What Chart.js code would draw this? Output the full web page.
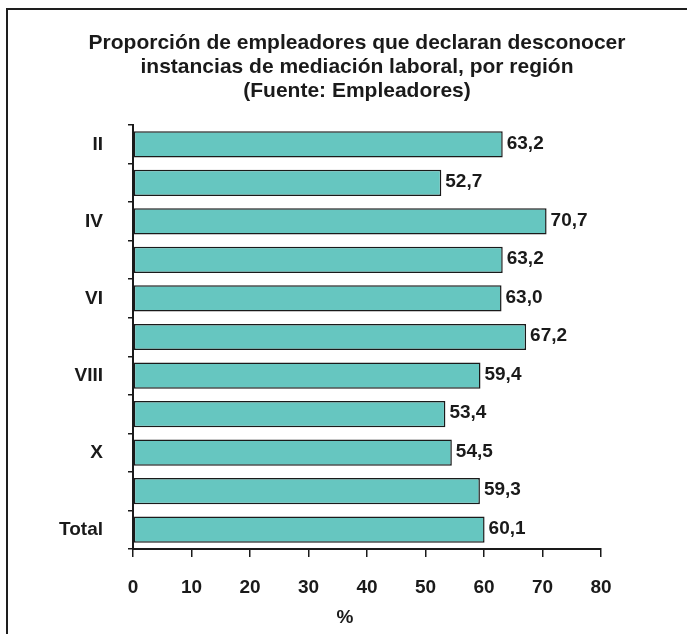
<!DOCTYPE html>
<html>
<head>
<meta charset="utf-8">
<script src="https://cdn.jsdelivr.net/npm/chart.js@4"></script>
<style>
  body { margin: 0; background: #fff; }
  #wrap { position: relative; width: 687px; height: 634px; overflow: hidden; }
  #marco {
    position: absolute; left: 6px; top: 8px; right: -10px; bottom: -10px;
    border-top: 2px solid #1e1e1e; border-left: 2px solid #1e1e1e;
    pointer-events: none;
  }
</style>
</head>
<body>
<div id="wrap">
  <canvas id="myChart" width="687" height="634"></canvas>
  <div id="marco"></div>
</div>
<script>
// regiones (solo se rotulan las posiciones pares, como en el original)
var regiones = ['II', 'III', 'IV', 'V', 'VI', 'VII', 'VIII', 'IX', 'X', 'RM', 'Total'];
var porcentajes = [63.2, 52.7, 70.7, 63.2, 63.0, 67.2, 59.4, 53.4, 54.5, 59.3, 60.1];
var ticksX = [0, 10, 20, 30, 40, 50, 60, 70, 80];
var titulo = [
    'Proporción de empleadores que declaran desconocer',
    'instancias de mediación laboral, por región',
    '(Fuente: Empleadores)'
];
var tituloEje = '%';

var fuente = 'Liberation Sans, Arial, sans-serif';
var negro = '#1a1a1a';

// titulo, valor al final de cada barra y "%" bajo el eje
var etiquetas = {
    id: 'etiquetas',
    afterDatasetsDraw: function(chart) {
        let ctx = chart.ctx;
        ctx.save();
        ctx.font = 'bold 19px ' + fuente;
        ctx.fillStyle = negro;
        ctx.textAlign = 'left';
        ctx.textBaseline = 'middle';
        chart.getDatasetMeta(0).data.forEach(function(bar, i) {
            let txt = porcentajes[i].toFixed(1).replace('.', ',');
            ctx.fillText(txt, bar.x + 4, bar.y - 1);
        });
        ctx.textAlign = 'center';
        ctx.fillText(tituloEje, 345, 618);
        ctx.font = 'bold 21px ' + fuente;
        titulo.forEach(function(linea, i) {
            ctx.fillText(linea, 357, 43 + i * 24);
        });
        ctx.restore();
    }
};

var ctx = document.getElementById('myChart');
var myBarChart = new Chart(ctx, {
    type: 'bar',
    data: {
        labels: regiones,
        datasets: [{
            data: porcentajes,
            backgroundColor: '#66c6c0',
            borderColor: negro,
            borderWidth: 1.5,
            borderSkipped: false,
            categoryPercentage: 1,
            barPercentage: 0.68
        }]
    },
    options: {
        indexAxis: 'y',
        responsive: false,
        animation: false,
        devicePixelRatio: 1,
        layout: { padding: { left: 20, right: 86, top: 125, bottom: 0 } },
        plugins: {
            legend: { display: false },
            tooltip: { enabled: false },
            title: { display: false }
        },
        scales: {
            x: {
                min: 0,
                max: 80,
                afterFit: function(s) { s.height = 85; },
                afterBuildTicks: function(s) {
                    s.ticks = ticksX.map(function(v) { return { value: v }; });
                },
                grid: { drawOnChartArea: false, tickLength: 8, color: negro, lineWidth: 1.5 },
                border: { color: negro, width: 2 },
                ticks: {
                    color: negro,
                    padding: 19,
                    maxRotation: 0,
                    font: { family: fuente, size: 19, weight: 'bold' }
                }
            },
            y: {
                afterFit: function(s) { s.width = 113; },
                grid: { drawOnChartArea: false, tickLength: 5, color: negro, lineWidth: 1.5 },
                border: { color: negro, width: 2 },
                ticks: {
                    color: negro,
                    padding: 25,
                    autoSkip: false,
                    font: { family: fuente, size: 19, weight: 'bold' },
                    callback: function(value, index) {
                        return index % 2 === 0 ? this.getLabelForValue(value) : '';
                    }
                }
            }
        }
    },
    plugins: [etiquetas]
});
</script>
</body>
</html>
